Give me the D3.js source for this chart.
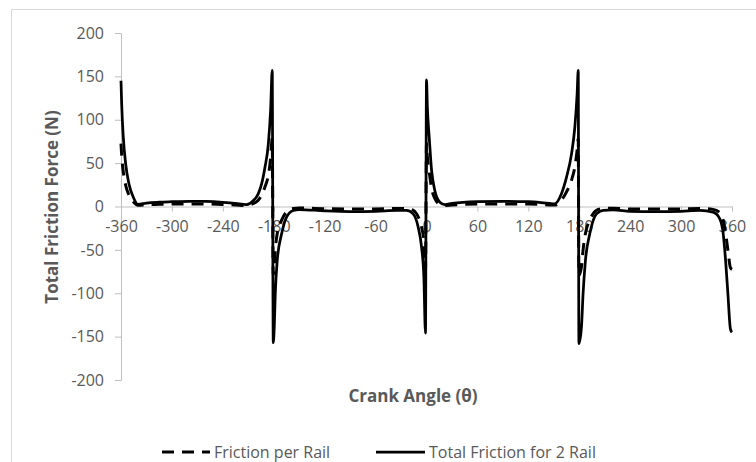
<!DOCTYPE html>
<html>
<head>
<meta charset="utf-8">
<script src="https://cdn.jsdelivr.net/npm/d3@7"></script>
<style>
    body { margin: 0; background: #ffffff; }
    .tick text { font-family: "Open Sans", "Liberation Sans", sans-serif; font-size: 16px; fill: #595959; }
    .aTitle { font-family: "Open Sans", "Liberation Sans", sans-serif; font-size: 17px; font-weight: bold; fill: #595959; }
    .legText { font-family: "Open Sans", "Liberation Sans", sans-serif; font-size: 16px; fill: #595959; }
</style>
</head>
<body>
<div class="chart"></div>
<script>
// crank angle in degrees (denser near the spikes)
var angles = [-360, -359.2, -357.3, -354.5, -350.6, -345.5, -340, -330, -315, -300, -280, -260, -240, -225, -212, -204, -198.3, -194.3, -190.4, -186.4, -183.7, -181.8,
    -180.6, -179.4, -178.2, -175.9, -170.7, -164.9, -157, -150, -120, -90, -60, -35, -23.5, -15.7, -9.8, -5.8, -3.1, -1.2,
    0, 1, 3.2, 6, 9.8, 15.7, 21.6, 30, 60, 90, 120, 145, 151.2, 159, 165, 170.9, 174.8, 177.5, 178.8,
    179.6, 182.6, 184.5, 187.3, 192.4, 200.3, 208, 220, 240, 270, 300, 322, 337.6, 345.5, 349.4, 352.6, 355.3, 358.1, 360];

// friction per rail (N), dashed line
var perRail = [72.5, 59, 40, 24.5, 13, 5.4, 1.3, 2, 2.5, 2.8, 3, 2.9, 2.4, 1.8, 1.2, 3.5, 7.3, 13, 22.5, 36, 55.5, 78.5,
    -78.5, -69.5, -50.3, -31, -15.8, -6.2, -2.3, -1.8, -2.5, -2.9, -2.8, -2.3, -2.3, -4.3, -11.9, -23.5, -40.8, -73,
    73, 57.5, 40, 20.8, 9.2, 2.5, 1.2, 1.8, 2.8, 3, 2.8, 1.8, 1.6, 7.3, 16.9, 30.4, 45.7, 65, 78.5,
    -79, -69.5, -50.3, -31, -15.8, -4.3, -2.3, -2, -2.8, -3, -2.8, -2.3, -3.3, -7, -14.8, -32, -51.3, -70.5, -72.5];

// total friction for 2 rails (N), solid line
var total = [145, 118, 80, 49, 26, 10.7, 2.5, 4, 5, 5.5, 6, 5.8, 4.8, 3.5, 2.3, 6.9, 14.6, 26, 45, 72, 111, 157,
    -157, -139, -100.6, -62, -31.5, -12.3, -4.6, -3.5, -5, -5.8, -5.5, -4.5, -4.6, -8.5, -23.8, -47, -81.5, -146,
    146, 115, 80, 41.5, 18.4, 5, 2.3, 3.5, 5.5, 6, 5.5, 3.5, 3.1, 14.6, 33.8, 60.7, 91.4, 130, 157,
    -158, -139, -100.6, -62, -31.5, -8.5, -4.6, -4, -5.5, -6, -5.5, -4.6, -6.5, -14, -29.6, -64, -102.6, -141, -145];

var xTicks = [-360, -300, -240, -180, -120, -60, 0, 60, 120, 180, 240, 300, 360];
var yTicks = [-200, -150, -100, -50, 0, 50, 100, 150, 200];

var seriesNames = ["Friction per Rail", "Total Friction for 2 Rail"];

var svgWidth = 756;
var svgHeight = 462;

var svg = d3.select(".chart")
    .append("svg")
    .attr("width", svgWidth)
    .attr("height", svgHeight);

// chart area border (runs off the right and bottom of the picture)
svg.append("rect")
    .attr("x", 11.5)
    .attr("y", 9.5)
    .attr("width", 800)
    .attr("height", 500)
    .attr("fill", "#ffffff")
    .attr("stroke", "#d9d9d9");

var x = d3.scaleLinear().domain([-360, 360]).range([121, 732]);
var y = d3.scaleLinear().domain([-200, 200]).range([380, 33]);

// plain hyphen labels like the original, not the unicode minus
var plainFormat = function(d) { return String(d); };

// y axis
var yAxis = svg.append("g")
    .attr("transform", `translate(${x(-360)},0)`)
    .call(d3.axisLeft(y).tickValues(yTicks).tickFormat(plainFormat).tickSize(6).tickSizeOuter(0).tickPadding(11));

// x axis sits on zero
var xAxis = svg.append("g")
    .attr("transform", `translate(0,${y(0)})`)
    .call(d3.axisBottom(x).tickValues(xTicks).tickFormat(plainFormat).tickSize(5).tickSizeOuter(0));

xAxis.selectAll(".tick text")
    .attr("y", 20)
    .attr("dy", "0.35em");

svg.selectAll(".domain, .tick line")
    .attr("stroke", "#bfbfbf");

// lines
var line = d3.line()
    .x(function(d, i) { return x(angles[i]); })
    .y(function(d) { return y(d); })
    .curve(d3.curveMonotoneX);

svg.append("path")
    .datum(total)
    .attr("d", line)
    .attr("fill", "none")
    .attr("stroke", "#000000")
    .attr("stroke-width", 2.75);

svg.append("path")
    .datum(perRail)
    .attr("d", line)
    .attr("fill", "none")
    .attr("stroke", "#000000")
    .attr("stroke-width", 3)
    .attr("stroke-dasharray", "12,8");

// axis titles
svg.append("text")
    .attr("class", "aTitle")
    .attr("transform", "translate(52,207) rotate(-90)")
    .attr("text-anchor", "middle")
    .attr("dy", "0.35em")
    .text("Total Friction Force (N)");

svg.append("text")
    .attr("class", "aTitle")
    .attr("x", 413)
    .attr("y", 402)
    .attr("text-anchor", "middle")
    .text("Crank Angle (θ)");

// legend
var legend = svg.append("g");

legend.append("line")
    .attr("x1", 162).attr("x2", 210)
    .attr("y1", 452).attr("y2", 452)
    .attr("stroke", "#000000")
    .attr("stroke-width", 3)
    .attr("stroke-dasharray", "12,8");

legend.append("text")
    .attr("class", "legText")
    .attr("x", 214)
    .attr("y", 458)
    .text(seriesNames[0]);

legend.append("line")
    .attr("x1", 376).attr("x2", 425)
    .attr("y1", 452).attr("y2", 452)
    .attr("stroke", "#000000")
    .attr("stroke-width", 2.75);

legend.append("text")
    .attr("class", "legText")
    .attr("x", 429)
    .attr("y", 458)
    .text(seriesNames[1]);
</script>
</body>
</html>
